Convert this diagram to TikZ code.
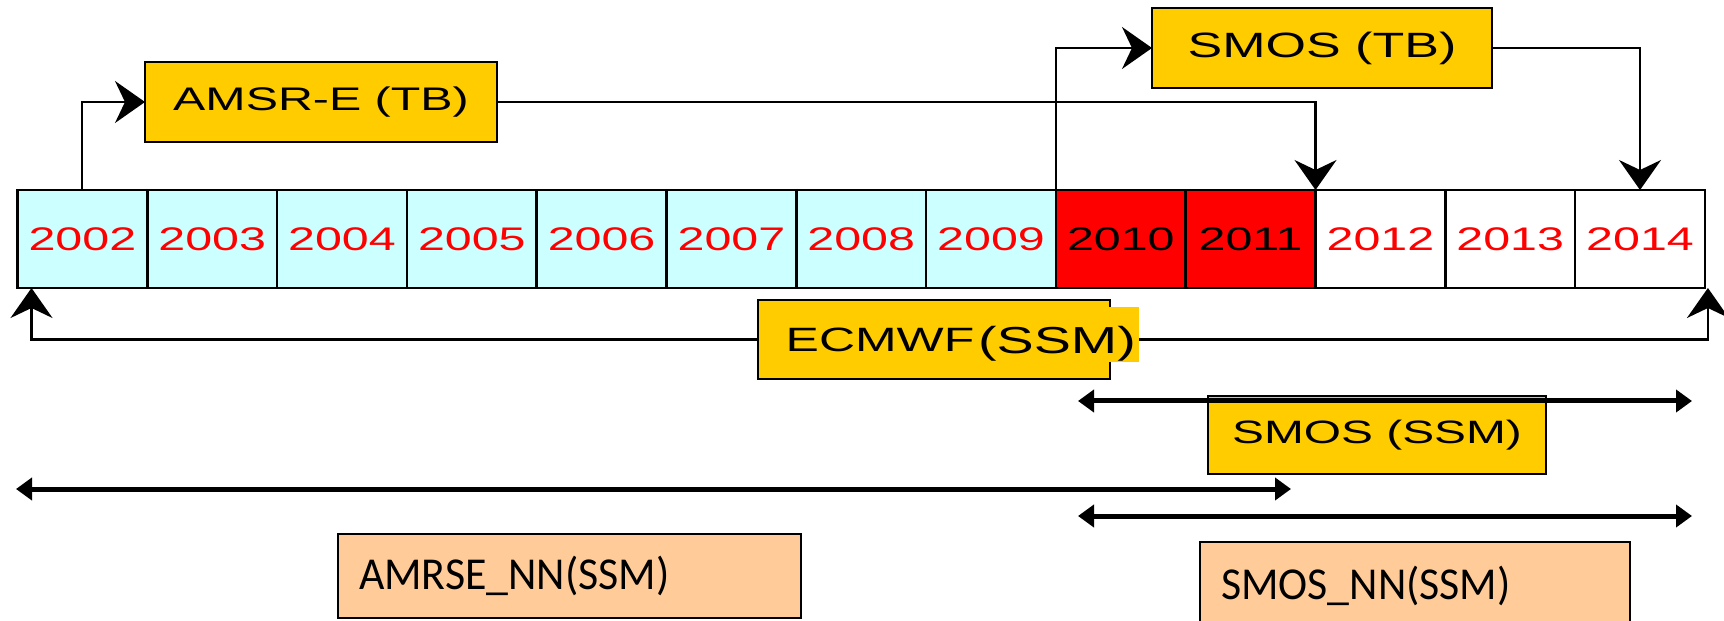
\documentclass[tikz,border=0pt]{standalone}
\usepackage{fontspec}
\usepackage{tikz}
\usetikzlibrary{arrows.meta,calc,positioning}
\newfontfamily\widesf[FakeStretch=1.48]{Liberation Sans}
\newfontfamily\calib[FakeStretch=0.96]{Carlito}
\definecolor{cellcyan}{RGB}{204,255,255}
\definecolor{srcyellow}{RGB}{255,204,0}
\definecolor{nnpeach}{RGB}{255,204,153}
\tikzset{
        yearbox/.style = {draw, rectangle, line width=0.7pt, outer sep=0pt,
            minimum height=0.98cm,
            minimum width=1.298cm, inner sep=0pt,
            font=\widesf\fontsize{9.3}{11}\selectfont},
        srcbox/.style = {draw, rectangle, fill=srcyellow, line width=0.7pt,
            inner sep=0pt, outer sep=0pt},
        nnbox/.style = {draw, rectangle, fill=nnpeach, line width=0.5pt,
            inner sep=0pt, outer sep=0pt,
            font=\calib\fontsize{13}{15}\selectfont},
        arrow/.style = {draw, line width=0.6pt,
            -{Stealth[length=0.3cm,width=0.42cm,inset=0.1cm]}},
        period/.style = {draw, line width=0.05cm,
            {Triangle[length=0.16cm,width=0.22cm]}-{Triangle[length=0.16cm,width=0.22cm]}},
    }

\begin{document}
\begin{tikzpicture}
    \useasboundingbox (0,0) rectangle (17.24,-6.21);

    % years
    \node[yearbox, fill=cellcyan, text=red, anchor=north west] (y2002) at (0.175,-1.90) {2002};
    \foreach \yr/\pr/\bg/\fg in {2003/2002/cellcyan/red, 2004/2003/cellcyan/red,
            2005/2004/cellcyan/red, 2006/2005/cellcyan/red, 2007/2006/cellcyan/red,
            2008/2007/cellcyan/red, 2009/2008/cellcyan/red, 2010/2009/red/black,
            2011/2010/red/black, 2012/2011/white/red, 2013/2012/white/red,
            2014/2013/white/red}
        \node[yearbox, fill=\bg, text=\fg, right=0pt of y\pr] (y\yr) {\yr};

    \node[srcbox, minimum width=3.52cm, minimum height=0.80cm,
          font=\widesf\fontsize{9.3}{11}\selectfont] (amsr) at (3.21,-1.02) {AMSR-E (TB)};
    \node[srcbox, minimum width=3.40cm, minimum height=0.80cm,
          font=\widesf\fontsize{10}{12}\selectfont] (smostb) at (13.22,-0.48) {SMOS (TB)};

    \draw[arrow] (y2002.north) |- (amsr.west);
    \draw[arrow] (amsr.east) -| (y2011.north east);
    \draw[arrow] (y2010.north west) |- (smostb.west);
    \draw[arrow] (smostb.east) -| (y2014.north);

    % ecmwf
    \node[srcbox, minimum width=3.52cm, minimum height=0.79cm] (ecmwf) at (9.34,-3.395) {};
    \node[anchor=east, inner sep=0pt, font=\widesf\fontsize{9.6}{11}\selectfont]
          (ecmwftxt) at (9.75,-3.40) {ECMWF};
    \coordinate[xshift=0.14cm] (ecl) at (y2002.south west);
    \coordinate[xshift=0.03cm] (ecr) at (y2014.south east);
    \draw[arrow] (ecmwf.west) -| (ecl);
    \draw[arrow] (ecmwf.east) -| (ecr);
    \node[fill=srcyellow, inner sep=0pt, minimum width=1.64cm,
          text height=0.467cm, text depth=0.083cm,
          font=\widesf\fontsize{10.7}{12}\selectfont] (ssmtxt) at (10.57,-3.345) {(SSM)};

    \node[srcbox, minimum width=3.38cm, minimum height=0.78cm,
          font=\widesf\fontsize{9.2}{11}\selectfont] (smosssm) at (13.77,-4.35) {SMOS (SSM)};

    % periods
    \coordinate (ssmL) at (10.78,-4.01);
    \coordinate (ssmR) at (16.92,-4.01);
    \coordinate (amsrL) at (0.16,-4.89);
    \coordinate (amsrR) at (12.91,-4.89);
    \coordinate (nnL) at (10.78,-5.16);
    \coordinate (nnR) at (16.92,-5.16);
    \draw[period] (ssmL) -- (ssmR);
    \draw[period] (amsrL) -- (amsrR);
    \draw[period] (nnL) -- (nnR);

    \node[nnbox, minimum width=4.63cm, minimum height=0.84cm,
          text width=4.21cm, align=left, inner xsep=0.21cm] (amsrnn) at (5.695,-5.76) {AMRSE\_NN(SSM)};
    \node[nnbox, minimum width=4.30cm, minimum height=0.88cm,
          text width=3.88cm, align=left, inner xsep=0.21cm] (smosnn) at (14.15,-5.86) {SMOS\_NN(SSM)};
\end{tikzpicture}
\end{document}
